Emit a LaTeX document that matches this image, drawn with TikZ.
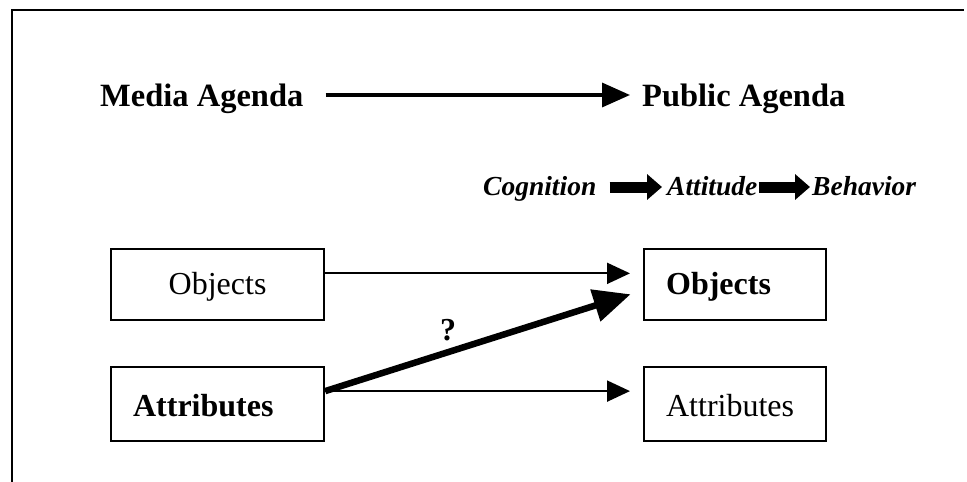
\documentclass[tikz,border=0pt]{standalone}
\usepackage{fontspec}
\setmainfont{Liberation Serif}
\usetikzlibrary{arrows.meta,calc}
\begin{document}
\begin{tikzpicture}[x=1pt,y=-1pt,
  lbl/.style={inner sep=0pt,font=\fontsize{32.5}{38}\selectfont\bfseries},
  stepword/.style={inner sep=0pt,font=\fontsize{27.5}{32}\selectfont\bfseries\itshape},
  boxnode/.style={draw,line width=2.2pt,inner xsep=22pt,inner ysep=0pt,anchor=north west,font=\fontsize{32}{38}\selectfont},
  objbox/.style={boxnode,text height=45.5pt,text depth=26pt},
  attbox/.style={boxnode,text height=49.5pt,text depth=24.5pt},
  thinarrow/.style={line width=2pt,-{Triangle[length=23pt,width=21pt]}},
  toparrow/.style={line width=3.5pt,-{Triangle[length=28pt,width=24pt]}},
  thickarrow/.style={line width=6.5pt,-{Triangle[length=37pt,width=32pt]}},
  blockarrow/.style={line width=11pt,-{Triangle[length=15pt,width=25pt]}}
]
\useasboundingbox (0,0) rectangle (967,482);
% frame
\draw[line width=2pt] (12,482) -- (12,10) -- (964,10);

% top row
\node[lbl,anchor=base west] (media) at (100,106) {Media Agenda};
\node[lbl,anchor=base west] (public) at (642,106) {Public Agenda};
\draw[toparrow] ([xshift=22pt,yshift=11pt]media.base east) -- ([xshift=-12pt,yshift=11pt]public.base west);

% cognition row
\node[stepword,anchor=base west] (cog) at (483,195) {Cognition};
\node[stepword,anchor=base west] (att) at (667,195) {Attitude};
\node[stepword,anchor=base west] (beh) at (812,195) {Behavior};
\draw[blockarrow] ([xshift=13pt,yshift=8pt]cog.base east) -- ([xshift=-5pt,yshift=8pt]att.base west);
\draw[blockarrow] ([xshift=1pt,yshift=8pt]att.base east) -- ([xshift=-2pt,yshift=8pt]beh.base west);

% boxes
\node[objbox,text width=169pt,align=center] (lobj) at (110,247.5) {Objects};
\node[attbox,text width=169pt,align=left] (latt) at (110,366) {\bfseries Attributes};
\node[objbox,text width=138pt,align=left] (robj) at (643,247.5) {\bfseries Objects};
\node[attbox,text width=138pt,align=left] (ratt) at (643,366) {Attributes};

% connectors
\draw[thinarrow,shorten >=13pt] ([yshift=11pt]lobj.east) -- ([yshift=11pt]robj.west);
\draw[thinarrow,shorten >=13pt] ([yshift=13pt]latt.east) -- ([yshift=13pt]ratt.west);
\draw[thickarrow,shorten >=13pt] ([yshift=13pt]latt.east) -- ([yshift=-6pt]robj.west);

\node[inner sep=0pt,font=\fontsize{32}{38}\selectfont\bfseries,anchor=base] (q) at (448,340) {?};
\end{tikzpicture}
\end{document}
